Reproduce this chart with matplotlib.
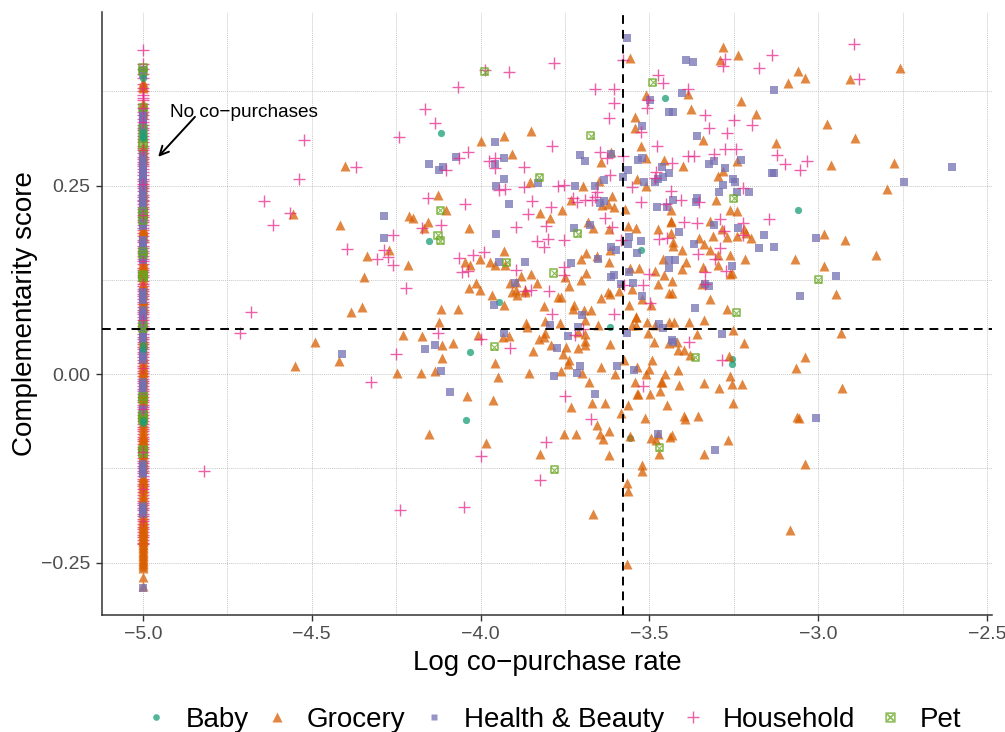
import numpy as np
import matplotlib
matplotlib.use("Agg")
import matplotlib.pyplot as plt
from matplotlib.lines import Line2D

plt.rcParams['font.family'] = ['Liberation Sans', 'DejaVu Sans']

NO_PURCHASE_X = -5.0
V_CUT = -3.578
H_CUT = 0.0595

categories = ["Baby", "Grocery", "Health & Beauty", "Household", "Pet"]

baby_points = [(-4.118,.319),(-3.453,.366),(-4.152,.176),(-3.526,.164),(-3.944,.095),(-3.061,.217),
 (-4.031,.029),(-4.044,-.061),(-3.618,.062),(-3.557,-.085),(-3.254,.020),(-3.254,.013)]

pet_points = [(-3.987,.401),(-3.490,.387),(-3.674,.316),(-3.826,.261),(-4.120,.217),(-4.126,.184),(-4.120,.177),
 (-3.712,.186),(-3.922,.148),(-3.783,.134),(-3.250,.233),(-3.0,.125),(-3.242,.081),(-3.959,.036),(-3.364,.022),
 (-3.470,-.098),(-3.781,-.127)]

household_points = [(-4.068,.381),(-4.166,.352),(-4.136,.333),(-3.987,.403),(-3.916,.401),(-3.782,.412),(-3.660,.378),
 (-3.604,.378),(-3.606,.360),(-3.578,.417),(-3.473,.397),(-3.459,.386),(-3.385,.378),(-3.504,.363),(-3.507,.353),
 (-3.620,.340),(-3.524,.321),(-3.477,.303),(-3.789,.303),(-4.036,.294),(-4.064,.287),(-3.974,.283),(-3.957,.287),
 (-3.957,.273),(-4.102,.271),(-3.871,.274),(-3.645,.295),(-3.624,.287),(-3.579,.289),(-3.618,.264),(-3.433,.280),
 (-3.385,.289),(-3.367,.289),(-3.480,.268),(-3.483,.260),(-3.946,.244),(-3.929,.246),(-3.870,.248),(-3.771,.250),
 (-3.754,.251),(-3.552,.248),(-3.655,.242),(-3.662,.235),(-3.436,.243),(-4.155,.233),(-4.047,.226),(-3.847,.229),
 (-3.727,.233),(-3.715,.228),(-3.690,.231),(-3.670,.231),(-3.526,.228),(-3.406,.231),(-3.450,.225),(-3.354,.228),
 (-3.792,.222),(-3.859,.212),(-3.630,.207),(-3.359,.200),(-3.397,.202),(-4.116,.197),(-4.173,.194),(-3.806,.196),
 (-3.895,.195),(-3.611,.195),(-3.833,.176),(-3.799,.179),(-3.813,.169),(-3.753,.178),(-3.583,.178),(-3.470,.179),
 (-3.447,.180),(-3.989,.162),(-4.023,.158),(-4.063,.154),(-3.356,.159),(-3.894,.138),(-4.036,.137),(-4.054,.135),
 (-3.752,.142),(-3.754,.131),(-3.500,.132),(-3.574,.118),(-3.519,.118),(-4.220,.114),(-3.796,.110),(-3.868,.110),
 (-3.851,.111),(-3.497,.094),(-3.787,.080),(-3.604,.080),
 (-2.895,.438),(-2.879,.391),(-3.136,.423),(-3.176,.406),(-3.277,.418),(-3.281,.408),(-3.334,.344),(-3.248,.337),
 (-3.196,.330),(-3.322,.326),(-3.269,.319),(-3.275,.299),(-3.242,.298),(-3.308,.292),(-3.123,.290),(-3.098,.278),
 (-3.033,.282),(-3.055,.271),(-3.223,.247),(-3.146,.206),(-3.291,.205),(-3.222,.200),(-3.278,.189),(-3.222,.185),
 (-3.291,.167),(-3.307,.153),(-3.334,.135),(-3.272,.136),(-3.334,.120),
 (-4.125,.054),(-3.998,.046),(-3.913,.035),(-3.721,.052),(-3.697,.060),(-3.383,.043),(-3.518,-.016),(-3.749,-.029),
 (-3.674,-.060),(-3.807,-.090),(-3.999,-.109),(-3.825,-.141),(-4.050,-.177),(-4.238,-.181),(-3.286,.019),
 (-4.522,.310),(-4.243,.314),(-4.369,.275),(-4.538,.259),(-4.641,.229),(-4.564,.214),(-4.614,.198),(-4.258,.185),
 (-4.287,.164),(-4.396,.166),(-4.307,.152),(-4.275,.155),(-4.258,.144),(-4.680,.082),(-4.714,.055),(-4.251,.027),
 (-4.324,-.011),(-4.818,-.128)]

health_points = [(-3.567,.445),(-3.392,.416),(-3.372,.414),(-3.403,.373),(-3.499,.363),(-3.442,.348),(-3.431,.347),
 (-3.523,.329),(-3.358,.315),(-3.956,.308),(-4.074,.288),(-4.154,.279),(-4.123,.270),(-4.110,.274),(-3.932,.286),
 (-3.956,.278),(-3.932,.259),(-3.955,.249),(-3.917,.226),(-3.706,.290),(-3.692,.283),(-3.615,.292),(-3.534,.284),
 (-3.521,.287),(-3.562,.270),(-3.579,.261),(-3.464,.274),(-3.441,.267),(-3.461,.261),(-3.475,.258),(-3.484,.254),
 (-3.517,.255),(-3.633,.257),(-3.662,.249),(-3.720,.249),(-3.831,.253),(-3.647,.227),(-3.635,.229),(-3.478,.222),
 (-3.449,.221),(-3.431,.231),(-3.358,.234),(-3.361,.228),(-3.677,.197),(-3.724,.193),(-3.953,.186),(-3.413,.188),
 (-3.560,.182),(-3.563,.172),(-3.526,.177),(-3.369,.172),(-3.615,.168),(-3.600,.164),(-3.538,.160),(-3.653,.153),
 (-3.944,.149),(-3.867,.149),(-3.733,.147),(-3.442,.151),(-3.424,.151),(-3.442,.141),(-3.559,.135),(-3.615,.129),
 (-3.605,.131),(-3.898,.121),(-3.585,.119),(-3.547,.121),(-3.523,.104),(-3.961,.091),(-3.366,.088),(-3.700,.078),
 (-3.131,.377),(-2.604,.274),(-2.746,.254),(-3.309,.283),(-3.324,.278),(-3.229,.284),(-3.277,.273),(-3.136,.267),
 (-3.130,.266),(-3.253,.258),(-3.247,.255),(-3.283,.251),(-3.294,.242),(-3.241,.242),(-3.206,.241),(-3.309,.198),
 (-3.238,.193),(-3.161,.185),(-3.006,.181),(-3.176,.167),(-3.130,.169),(-3.256,.143),(-2.948,.130),(-3.324,.117),
 (-3.334,.120),(-3.054,.103),
 (-4.166,.033),(-4.136,.039),(-4.116,.004),(-4.092,-.024),(-3.930,.054),(-3.793,.065),(-3.712,.063),(-3.742,.051),
 (-3.775,.035),(-3.706,.011),(-3.715,.001),(-3.781,-.003),(-3.596,.010),(-3.546,.005),(-3.660,-.026),(-3.567,.054),
 (-3.472,.066),(-3.461,.061),(-3.434,.045),(-3.431,.042),(-3.475,-.080),(-3.286,.053),(-3.007,-.059),(-3.306,-.101),
 (-4.287,.210),(-4.287,.181),(-4.409,.026)]

grocery_points = [(-3.557,.419),(-3.509,.370),(-3.385,.371),(-3.377,.351),(-3.542,.341),(-3.543,.326),(-3.851,.322),
 (-3.930,.315),(-3.999,.309),(-3.906,.292),(-3.524,.303),(-3.613,.294),(-3.643,.281),(-3.510,.286),(-3.458,.284),
 (-3.401,.276),(-3.853,.255),(-3.650,.256),(-3.696,.249),(-3.537,.258),(-3.509,.249),(-4.127,.237),(-3.731,.231),
 (-3.611,.236),(-3.641,.224),(-3.623,.225),(-3.606,.221),(-4.102,.218),(-4.213,.209),(-4.200,.207),(-4.157,.201),
 (-4.169,.193),(-4.035,.194),(-3.823,.213),(-3.759,.218),(-3.793,.207),(-3.573,.219),(-3.435,.217),(-3.436,.203),
 (-3.437,.202),(-3.683,.201),(-3.667,.193),(-3.620,.192),(-3.564,.196),(-3.539,.194),(-3.473,.192),(-3.435,.187),
 (-3.431,.175),(-3.430,.170),(-3.354,.180),(-3.617,.165),(-3.688,.160),(-3.402,.164),(-3.931,.163),(-3.654,.156),
 (-4.002,.153),(-3.703,.152),(-4.046,.148),(-3.973,.148),(-4.032,.145),(-3.958,.144),(-4.215,.145),(-3.928,.145),
 (-3.619,.148),(-3.460,.153),(-3.390,.148),(-3.557,.140),(-3.532,.141),(-3.483,.137),(-3.403,.139),(-3.688,.134),
 (-3.851,.132),(-3.881,.130),(-3.458,.131),(-3.703,.125),(-3.912,.121),(-3.894,.122),(-4.014,.121),(-3.834,.121),
 (-3.432,.124),(-3.473,.119),(-3.749,.129),(-3.738,.117),(-4.034,.114),(-4.002,.112),(-3.894,.112),(-3.907,.109),
 (-3.892,.105),(-3.868,.112),(-3.867,.109),(-3.966,.105),(-3.590,.110),(-3.622,.109),(-3.616,.106),(-3.643,.101),
 (-3.550,.113),(-3.443,.107),(-3.433,.107),(-3.522,.100),(-3.770,.102),(-3.761,.102),(-3.813,.090),(-3.931,.091),
 (-3.560,.091),(-3.494,.091),(-3.724,.091),(-3.727,.086),(-3.693,.085),(-3.673,.085),(-4.116,.086),(-4.067,.086),
 (-3.541,.076),(-3.539,.075),
 (-3.281,.434),(-3.237,.423),(-3.292,.417),(-3.061,.402),(-3.040,.393),(-3.090,.386),(-2.905,.391),(-2.759,.406),
 (-3.230,.362),(-3.185,.345),(-2.975,.331),(-2.892,.313),(-3.341,.311),(-3.124,.307),(-3.240,.282),(-2.963,.277),
 (-2.776,.280),(-2.796,.246),(-3.298,.263),(-3.283,.269),(-3.302,.231),(-3.260,.218),(-3.239,.216),(-3.321,.203),
 (-3.285,.192),(-3.310,.183),(-3.271,.182),(-3.240,.183),(-3.220,.192),(-3.215,.187),(-3.200,.180),(-2.982,.186),
 (-2.920,.178),(-3.069,.153),(-2.829,.158),(-2.983,.143),(-2.946,.106),(-3.319,.164),(-3.297,.158),(-3.260,.158),
 (-3.218,.153),(-3.339,.172),(-3.341,.142),(-3.298,.144),(-3.255,.134),(-3.260,.133),(-3.344,.120),(-3.319,.100),
 (-3.270,.086),(-3.339,.072),
 (-4.124,.069),(-4.230,.052),(-4.174,.050),(-4.114,.038),(-4.083,.041),(-4.114,.021),(-4.175,.001),(-4.134,.004),
 (-4.008,.052),(-3.935,.049),(-3.915,.051),(-3.956,.014),(-3.949,-.004),(-3.856,.001),(-3.866,.067),(-3.861,.062),
 (-3.808,.070),(-3.764,.067),(-3.810,.055),(-3.826,.046),(-3.813,.049),(-3.846,.030),(-3.790,.038),(-3.746,.036),
 (-3.755,.027),(-3.710,.034),(-3.691,.053),(-3.692,.044),(-3.691,.038),(-3.710,.056),(-3.653,.065),(-3.691,.072),
 (-3.618,.040),(-3.738,.019),(-3.742,.013),(-3.761,.004),(-3.701,.002),(-3.642,.009),(-3.603,.000),(-3.575,.018),
 (-3.536,.009),(-3.492,.019),(-3.502,.006),(-3.511,.000),(-3.680,-.010),(-3.454,.000),(-3.416,.005),(-3.542,-.011),
 (-3.464,-.010),(-3.465,-.011),(-3.412,-.015),(-3.468,-.022),(-3.499,-.026),(-3.533,-.027),(-3.536,-.027),
 (-4.039,-.029),(-3.962,-.034),(-3.732,-.044),(-3.669,-.039),(-3.631,-.039),(-3.564,-.041),(-3.449,-.041),
 (-3.585,-.052),(-3.513,-.059),(-3.396,-.056),(-3.394,-.060),(-3.355,-.056),(-3.655,-.068),(-3.619,-.075),
 (-3.645,-.079),(-3.638,-.086),(-3.754,-.079),(-3.718,-.079),(-4.152,-.079),(-3.985,-.092),(-3.824,-.106),
 (-3.619,-.108),(-3.556,-.082),(-3.495,-.085),(-3.481,-.087),(-3.475,-.079),(-3.439,-.083),(-3.432,-.081),
 (-3.471,-.106),(-3.522,-.121),(-3.522,-.129),(-3.567,-.145),(-3.563,-.155),(-3.666,-.186),(-3.567,-.252),
 (-3.551,.065),(-3.540,.065),(-3.508,.069),(-3.505,.055),(-3.483,.065),(-3.443,.069),(-3.426,.069),(-3.383,.069),
 (-3.358,.053),(-3.486,.042),(-3.416,.032),(-3.397,.032),(-3.379,.025),(-3.418,.043),(-3.442,.041),
 (-3.251,.058),(-2.933,.055),(-3.219,.041),(-3.265,.024),(-3.040,.022),(-3.066,.008),(-3.260,-.002),(-3.339,-.012),
 (-3.294,-.018),(-3.255,-.013),(-3.225,-.013),(-2.928,-.019),(-3.251,-.038),(-3.064,-.057),(-3.056,-.059),
 (-3.267,-.087),(-3.337,-.106),(-3.040,-.119),(-3.084,-.207),
 (-4.403,.276),(-4.555,.212),(-4.416,.198),(-4.272,.164),(-4.336,.156),(-4.345,.128),(-4.384,.082),(-4.351,.089),
 (-4.491,.042),(-4.549,.011),(-4.420,.017),(-4.248,.002)]

# Scores of the products with no co-purchases (all sit at the log-rate floor)
baby_strip = [.393,.321,.316,.313,.038,.033,-.061,-.065]
pet_strip = [.406,.401,.353,.326,.313,.306,.300,.215,.211,.204,.162,.158,.132,.130,.128,.065,.060,-.030,-.034,-.054,
 -.058,-.061,-.100,-.103,-.106]
health_strip = [.403,.398,.347,.344,.342,.340,.339,.337,.334,.332,.329,.327,.324,.317,.290,.287,.284,.281,.279,.277,
 .275,.273,.271,.268,.266,.264,.262,.260,.257,.255,.252,.249,.246,.244,.241,.238,.236,.233,.231,.228,.225,.222,.220,
 .218,.215,.213,.210,.207,.205,.203,.200,.198,.196,.178,.176,.172,.170,.168,.165,.160,.157,.155,.153,.151,.109,.107,
 .105,.103,.100,.098,.085,.082,.080,.077,.075,.072,.070,.068,.066,.064,.061,.059,.056,.054,.050,.048,.046,.029,.027,
 .024,.021,.018,-.010,-.013,-.016,-.019,-.022,-.046,-.048,-.051,-.120,-.122,-.124,-.126,-.128,-.130,-.133,-.175,-.178,
 -.180,-.183,-.186,-.284]
grocery_strip = [.387,.385,.382,.379,.359,.355,.352,.350,.348,.345,.301,.299,.297,.295,.293,.290,.289,.286,.284,.258,
 .255,.252,.249,.246,.242,.239,.236,.233,.229,.226,.223,.218,.215,.212,.193,.191,.189,.187,.185,.183,.180,.150,.147,
 .145,.142,.140,.137,.134,.130,.126,.121,.118,.115,.113,.111,.108,.105,.100,.097,.094,.092,.090,.088,.085,.080,.052,
 .048,.045,.042,.040,.035,.030,.025,.023,.021,.017,.013,.011,.007,.005,.003,.001,-.003,-.005,-.007,-.009,-.012,-.015,
 -.018,-.023,-.025,-.027,-.030,-.034,-.037,-.041,-.044,-.047,-.050,-.053,-.056,-.059,-.064,-.068,-.072,-.076,-.079,
 -.082,-.084,-.086,-.088,-.090,-.092,-.094,-.096,-.098,-.105,-.108,-.111,-.113,-.115,-.117,-.119,-.121,-.124,-.135,
 -.138,-.140,-.142,-.144,-.146,-.148,-.151,-.153,-.156,-.160,-.163,-.167,-.170,-.174,-.178,-.183,-.187,-.191,-.193,
 -.195,-.197,-.199,-.201,-.203,-.205,-.207,-.209,-.211,-.213,-.215,-.217,-.219,-.221,-.223,-.225,-.227,-.229,-.231,
 -.233,-.236,-.238,-.240,-.242,-.244,-.246,-.248,-.250,-.252,-.254,-.257,-.269,-.281]
household_strip = [.430,.411,.405,.398,.392,.385,.375,.366,.363,.358,.348,.344,.338,.330,.326,.323,.320,.316,.312,.308,
 .303,.300,.293,.288,.285,.281,.278,.276,.272,.268,.264,.259,.256,.250,.247,.243,.238,.235,.231,.229,.226,.222,.219,
 .215,.208,.204,.201,.197,.194,.191,.187,.183,.178,.175,.170,.167,.163,.160,.156,.153,.146,.141,.138,.135,.131,.128,
 .124,.117,.113,.110,.106,.103,.099,.096,.093,.089,.085,.082,.079,.075,.068,.064,.061,.058,.053,.049,.046,.043,.040,
 .036,.033,.029,.026,.022,.018,.015,.011,.004,.001,-.003,-.006,-.009,-.012,-.016,-.020,-.023,-.026,-.030,-.034,-.037,
 -.041,-.044,-.051,-.055,-.058,-.062,-.066,-.070,-.073,-.076,-.080,-.083,-.086,-.089,-.093,-.097,-.100,-.107,-.111,
 -.115,-.118,-.122,-.125,-.128,-.131,-.135,-.139,-.142,-.146,-.149,-.156,-.160,-.164,-.168,-.171,-.174,-.178,-.181,
 -.185,-.188,-.192,-.199,-.203,-.206,-.210,-.213,-.216,-.220,-.224,-.226]
household_strip_top = [.379,.370,.353,.334,.297,.252,.211,.150,.120,.071,.008,-.047,-.104,-.153,-.195]

colors = {"Baby": "#1B9E77", "Grocery": "#D95F02", "Health & Beauty": "#7570B3",
          "Household": "#E7298A", "Pet": "#66A61E"}
ALPHA = 0.75

def xy(points):
    p = np.array(points)
    return p[:, 0], p[:, 1]

def strip(values):
    s = np.array(values, dtype=float)
    return np.full(len(s), NO_PURCHASE_X), s

fig = plt.figure(figsize=(10.05, 7.32), dpi=100)
ax = fig.add_axes([102/1005, 1-615/732, (992-102)/1005, (615-12)/732])
ax.set_xlim(-5.1214, -2.485)
ax.set_ylim(-0.3196, 0.4801)

ax.set_xticks([-5, -4.5, -4, -3.5, -3, -2.5])
ax.set_xticklabels(["\u22125.0", "\u22124.5", "\u22124.0", "\u22123.5", "\u22123.0", "\u22122.5"], clip_on=False)
ax.set_xticks([-4.75, -4.25, -3.75, -3.25, -2.75], minor=True)
ax.set_yticks([-0.25, 0, 0.25])
ax.set_yticklabels(["\u22120.25", "0.00", "0.25"])
ax.set_yticks([-0.125, 0.125, 0.375], minor=True)
ax.tick_params(axis='both', which='major', labelsize=14, labelcolor='#4D4D4D', length=4, width=1, color='#333333')
ax.tick_params(axis='x', which='major', pad=4)
ax.tick_params(axis='y', which='major', pad=4.5)
ax.tick_params(axis='both', which='minor', length=0)
ax.grid(True, which='both', color='#C8C8C8', lw=0.7, ls=(0, (1, 1)))
ax.set_axisbelow(True)
for side in ('top', 'right'):
    ax.spines[side].set_visible(False)
for side in ('left', 'bottom'):
    ax.spines[side].set_color('#333333')
    ax.spines[side].set_linewidth(1.1)

ax.set_xlabel("Log co\u2212purchase rate", fontsize=20, labelpad=5)
ax.set_ylabel("Complementarity score", fontsize=20, labelpad=2)

styles = {
    "Baby": dict(marker='o', s=27, color=colors["Baby"], alpha=ALPHA, linewidths=0),
    "Grocery": dict(marker='^', s=52, color=colors["Grocery"], alpha=ALPHA, linewidths=0),
    "Health & Beauty": dict(marker='s', s=30, color=colors["Health & Beauty"], alpha=ALPHA, linewidths=0),
    "Household": dict(marker='+', s=85, color=colors["Household"], alpha=ALPHA, linewidths=1.0),
}

def draw_pet(px, py, z):
    ax.scatter(px, py, marker='s', s=26, facecolors='none', edgecolors=colors["Pet"], alpha=ALPHA, linewidths=1.2, zorder=z)
    ax.scatter(px, py, marker='x', s=20, color=colors["Pet"], alpha=ALPHA, linewidths=0.8, zorder=z)

# the floor strip: household underneath, a few on top
ax.scatter(*strip(household_strip), zorder=2.5, **styles["Household"])
ax.scatter(*strip(grocery_strip), zorder=2.6, **styles["Grocery"])
ax.scatter(*strip(health_strip), zorder=2.7, **styles["Health & Beauty"])
draw_pet(*strip(pet_strip), 2.8)
ax.scatter(*strip(baby_strip), zorder=2.9, **styles["Baby"])
ax.scatter(*strip(household_strip_top), zorder=2.95, **styles["Household"])

# products with co-purchases
ax.scatter(*xy(baby_points), zorder=3, **styles["Baby"])
ax.scatter(*xy(grocery_points), zorder=3, **styles["Grocery"])
ax.scatter(*xy(health_points), zorder=3, **styles["Health & Beauty"])
ax.scatter(*xy(household_points), zorder=3, **styles["Household"])
draw_pet(*xy(pet_points), 3)

ax.axvline(V_CUT, color='black', lw=1.4, ls=(0, (4.5, 3.1)), zorder=4)
ax.axhline(H_CUT, color='black', lw=1.4, ls=(0, (4.5, 3.1)), zorder=4)

ax.text(-4.92, 0.347, "No co\u2212purchases", fontsize=13.7, color='black', ha='left', va='center')
ax.annotate("", xy=(-4.955, 0.288), xytext=(-4.846, 0.341),
            arrowprops=dict(arrowstyle='->', color='black', lw=1.4, mutation_scale=16, shrinkA=0, shrinkB=0))

handles = [
    Line2D([], [], ls='', marker='o', ms=4.8, mfc=colors["Baby"], mec='none', alpha=ALPHA),
    Line2D([], [], ls='', marker='^', ms=6.5, mfc=colors["Grocery"], mec='none', alpha=ALPHA),
    Line2D([], [], ls='', marker='s', ms=5, mfc=colors["Health & Beauty"], mec='none', alpha=ALPHA),
    Line2D([], [], ls='', marker='+', ms=9, mec=colors["Household"], mew=1.0, alpha=ALPHA),
    Line2D([], [], ls='', marker=r'$\boxtimes$', ms=7, mfc=colors["Pet"], mec=colors["Pet"], mew=0.3, alpha=ALPHA),
]
common = dict(frameon=False, fontsize=20, loc='center left', borderpad=0, borderaxespad=0,
              handlelength=1.2, handletextpad=0.48, columnspacing=0.42)
fig.legend(handles[:4], categories[:4], ncols=4, bbox_to_anchor=(139/1005, 1-720/732), **common)
fig.legend(handles[4:], categories[4:], ncols=1, bbox_to_anchor=(873/1005, 1-720/732), **common)

fig.savefig("out.png", dpi=100)
